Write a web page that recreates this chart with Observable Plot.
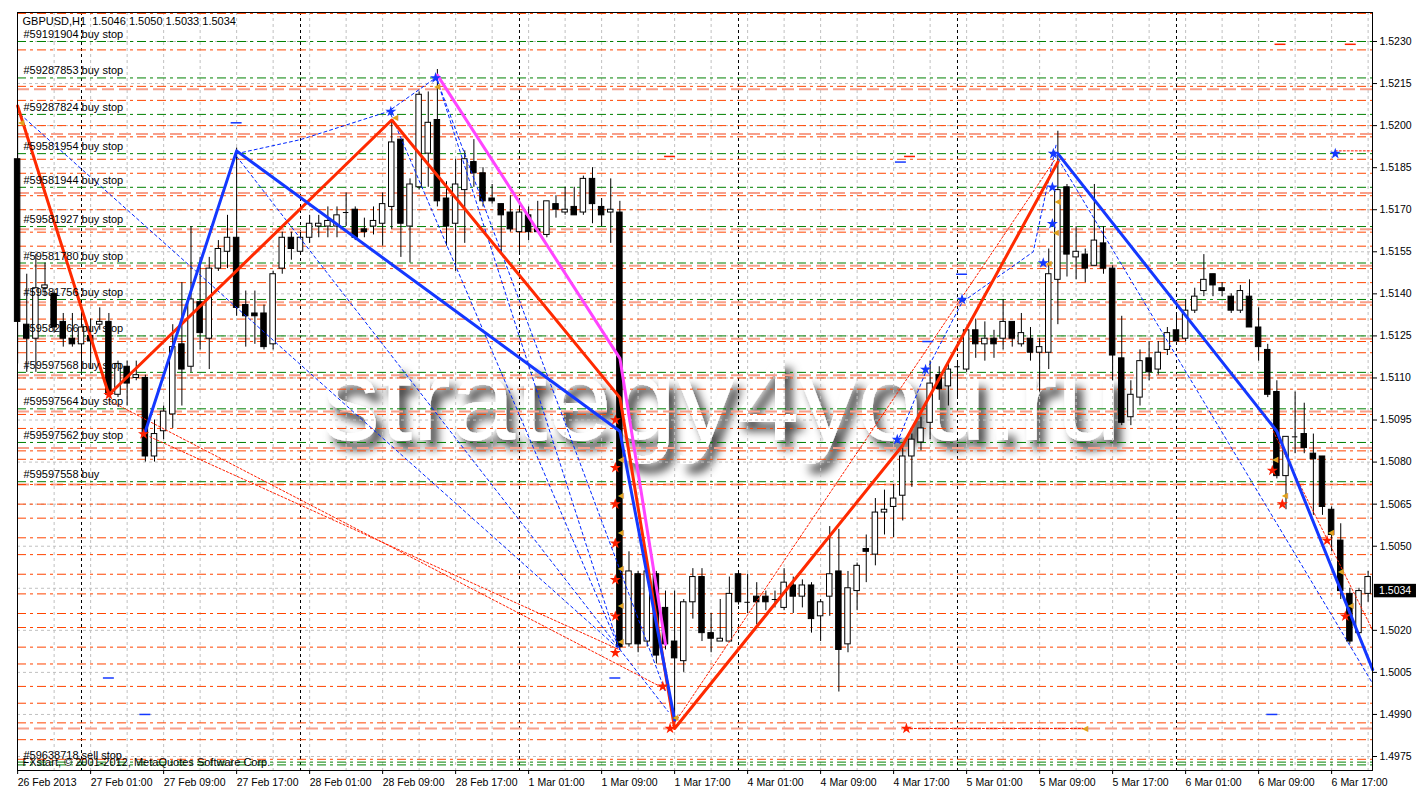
<!DOCTYPE html>
<html><head><meta charset="utf-8">
<script src="https://cdn.jsdelivr.net/npm/d3@7"></script>
<script src="https://cdn.jsdelivr.net/npm/@observablehq/plot@0.6"></script>
<style>
html,body{margin:0;padding:0;background:#fff;}
#chart{position:relative;width:1425px;height:803px;overflow:hidden;}
svg text{white-space:pre;}
</style></head><body><div id="chart"></div>
<script>
// ---------- DATA ----------
const firstBar = -7; // bar index of the first visible H1 candle (26 Feb 17:00)
const opens = [
1.5188,1.5129,1.5124,1.5142,1.5140,1.5130,1.5124,1.5122,1.5125,1.5129,
1.5130,1.5104,1.5114,1.5110,1.5110,1.5082,1.5091,1.5097,1.5122,1.5114,
1.5137,1.5124,1.5149,1.5155,1.5160,1.5136,1.5133,1.5133,1.5122,1.5149,
1.5160,1.5155,1.5160,1.5164,1.5164,1.5164,1.5169,1.5170,1.5163,1.5164,
1.5165,1.5171,1.5195,1.5164,1.5178,1.5190,1.5202,1.5174,1.5165,1.5177,
1.5187,1.5183,1.5174,1.5172,1.5169,1.5162,1.5168,1.5163,1.5161,1.5172,
1.5169,1.5171,1.5169,1.5181,1.5171,1.5169,1.5169,1.5015,1.5040,1.5016,
1.5040,1.5028,1.5016,1.5009,1.5030,1.5039,1.5019,1.5016,1.5016,1.5040,
1.5030,1.5032,1.5032,1.5031,1.5028,1.5036,1.5032,1.5036,1.5025,1.5032,
1.5041,1.5015,1.5034,1.5049,1.5047,1.5062,1.5064,1.5068,1.5082,1.5087,
1.5094,1.5111,1.5107,1.5114,1.5113,1.5127,1.5122,1.5124,1.5124,1.5130,
1.5122,1.5124,1.5119,1.5119,1.5145,1.5178,1.5153,1.5154,1.5150,1.5158,
1.5149,1.5117,1.5096,1.5103,1.5117,1.5113,1.5120,1.5127,1.5124,1.5134,
1.5141,1.5147,1.5142,1.5139,1.5134,1.5139,1.5128,1.5120,1.5105,1.5075,
1.5089,1.5090,1.5083,1.5082,1.5063,1.5052,1.5033,1.5019,1.5033];
const highs = [
1.5207,1.5147,1.5154,1.5151,1.5141,1.5133,1.5133,1.5133,1.5131,1.5135,
1.5133,1.5116,1.5116,1.5116,1.5111,1.5095,1.5100,1.5129,1.5144,1.5164,
1.5153,1.5153,1.5159,1.5168,1.5192,1.5141,1.5141,1.5136,1.5148,1.5162,
1.5162,1.5162,1.5168,1.5168,1.5171,1.5171,1.5176,1.5171,1.5167,1.5171,
1.5176,1.5202,1.5195,1.5181,1.5212,1.5212,1.5220,1.5180,1.5188,1.5191,
1.5195,1.5185,1.5179,1.5172,1.5175,1.5172,1.5171,1.5173,1.5173,1.5175,
1.5178,1.5178,1.5182,1.5185,1.5174,1.5181,1.5173,1.5048,1.5041,1.5041,
1.5041,1.5034,1.5034,1.5031,1.5042,1.5042,1.5026,1.5031,1.5039,1.5041,
1.5040,1.5037,1.5034,1.5034,1.5042,1.5039,1.5038,1.5037,1.5031,1.5057,
1.5056,1.5041,1.5044,1.5054,1.5067,1.5070,1.5072,1.5086,1.5090,1.5096,
1.5116,1.5114,1.5115,1.5116,1.5128,1.5131,1.5130,1.5127,1.5138,1.5130,
1.5133,1.5128,1.5124,1.5156,1.5198,1.5179,1.5164,1.5156,1.5179,1.5164,
1.5150,1.5132,1.5109,1.5120,1.5123,1.5123,1.5128,1.5133,1.5138,1.5142,
1.5154,1.5147,1.5144,1.5140,1.5143,1.5145,1.5135,1.5122,1.5109,1.5089,
1.5105,1.5101,1.5090,1.5082,1.5064,1.5058,1.5035,1.5035,1.5041];
const lows = [
1.5115,1.5112,1.5112,1.5139,1.5126,1.5121,1.5121,1.5112,1.5113,1.5127,
1.5103,1.5103,1.5100,1.5109,1.5080,1.5080,1.5088,1.5092,1.5100,1.5112,
1.5120,1.5113,1.5148,1.5149,1.5132,1.5121,1.5122,1.5120,1.5120,1.5147,
1.5152,1.5155,1.5158,1.5160,1.5160,1.5160,1.5164,1.5159,1.5160,1.5161,
1.5157,1.5163,1.5153,1.5151,1.5177,1.5178,1.5171,1.5157,1.5148,1.5158,
1.5178,1.5171,1.5172,1.5154,1.5162,1.5154,1.5159,1.5162,1.5160,1.5167,
1.5168,1.5168,1.5168,1.5165,1.5164,1.5158,1.5013,1.5014,1.5012,1.5014,
1.5008,1.5013,1.4985,1.5005,1.5024,1.5016,1.5012,1.5016,1.5016,1.5029,
1.5026,1.5022,1.5027,1.5028,1.5027,1.5026,1.5028,1.5019,1.5016,1.5025,
1.4998,1.5012,1.5027,1.5037,1.5043,1.5054,1.5053,1.5059,1.5071,1.5084,
1.5088,1.5102,1.5100,1.5103,1.5112,1.5117,1.5116,1.5117,1.5120,1.5121,
1.5121,1.5116,1.5105,1.5113,1.5129,1.5146,1.5145,1.5144,1.5150,1.5147,
1.5109,1.5093,1.5093,1.5100,1.5109,1.5111,1.5118,1.5123,1.5123,1.5133,
1.5139,1.5139,1.5139,1.5133,1.5133,1.5128,1.5116,1.5103,1.5074,1.5063,
1.5083,1.5083,1.5061,1.5061,1.5048,1.5031,1.5015,1.5018,1.5030];
const closes = [
1.5130,1.5124,1.5142,1.5143,1.5128,1.5124,1.5122,1.5128,1.5123,1.5130,
1.5104,1.5115,1.5108,1.5111,1.5082,1.5090,1.5098,1.5121,1.5113,1.5138,
1.5126,1.5149,1.5156,1.5160,1.5135,1.5132,1.5132,1.5121,1.5147,1.5160,
1.5156,1.5160,1.5165,1.5165,1.5166,1.5168,1.5169,1.5160,1.5162,1.5166,
1.5172,1.5194,1.5165,1.5179,1.5211,1.5201,1.5173,1.5164,1.5179,1.5188,
1.5183,1.5173,1.5173,1.5168,1.5163,1.5169,1.5162,1.5162,1.5173,1.5170,
1.5170,1.5168,1.5181,1.5172,1.5168,1.5170,1.5014,1.5041,1.5015,1.5041,
1.5011,1.5015,1.5010,1.5030,1.5039,1.5019,1.5017,1.5017,1.5033,1.5030,
1.5030,1.5030,1.5030,1.5031,1.5037,1.5032,1.5036,1.5024,1.5030,1.5040,
1.5013,1.5035,1.5043,1.5048,1.5062,1.5063,1.5067,1.5082,1.5088,1.5092,
1.5108,1.5106,1.5113,1.5114,1.5127,1.5122,1.5124,1.5122,1.5130,1.5124,
1.5126,1.5119,1.5121,1.5147,1.5177,1.5154,1.5155,1.5149,1.5159,1.5149,
1.5118,1.5094,1.5104,1.5116,1.5112,1.5119,1.5126,1.5123,1.5134,1.5139,
1.5145,1.5143,1.5141,1.5134,1.5141,1.5128,1.5121,1.5104,1.5075,1.5089,
1.5089,1.5085,1.5081,1.5064,1.5054,1.5034,1.5016,1.5034,1.5039];

const headerText = "GBPUSD,H1  1.5046 1.5050 1.5033 1.5034";
const lastPrice = 1.5034;
const watermarkText = "strategy4you.ru";

// axes
const yTicks = [1.4975,1.4990,1.5005,1.5020,1.5035,1.5050,1.5065,1.5080,1.5095,1.5110,1.5125,1.5140,1.5155,1.5170,1.5185,1.5200,1.5215,1.5230];
const xTickIdx = [-7,1,9,17,25,33,41,49,57,65,73,81,89,97,105,113,121,129,137];
const xTickLabels = ["26 Feb 2013","27 Feb 01:00","27 Feb 09:00","27 Feb 17:00","28 Feb 01:00","28 Feb 09:00","28 Feb 17:00","1 Mar 01:00","1 Mar 09:00","1 Mar 17:00","4 Mar 01:00","4 Mar 09:00","4 Mar 17:00","5 Mar 01:00","5 Mar 09:00","5 Mar 17:00","6 Mar 01:00","6 Mar 09:00","6 Mar 17:00"];
const daySeparators = [0,24,48,72,96,120];

// pending orders and levels
const orderNames = ["#59191904 buy stop","#59287853 buy stop","#59287824 buy stop","#59581954 buy stop","#59581944 buy stop","#59581927 buy stop","#59581780 buy stop","#59581756 buy stop","#59582766 buy stop","#59597568 buy stop","#59597564 buy stop","#59597562 buy stop","#59597558 buy","#59638718 sell stop"];
const orderPrices = [1.5230,1.5217,1.5204,1.5190,1.5178,1.5164,1.5151,1.5138,1.5125,1.5112,1.5099,1.5087,1.5073,1.4973];
const greenLevels = [1.5230,1.5217,1.5204,1.5190,1.5178,1.5164,1.5151,1.5138,1.5125,1.5112,1.5099,1.5087,1.5073,1.4973,1.4972];
const salmonLevels = [1.5213,1.5197,1.5176,1.5163,1.5150,1.5137,1.5124,1.5111,1.5098,1.5085,1.5072,1.4985];
const redLevels = [1.5240,1.5227,1.5214,1.5209,1.5200,1.5196,1.5188,1.5183,1.5175,1.5170,1.5162,1.5157,1.5149,1.5144,1.5136,1.5131,1.5123,1.5119,1.5110,1.5106,1.5097,1.5092,1.5084,1.5081,1.5072,1.5065,1.5060,1.5053,1.5047,1.5040,1.5033,1.5026,1.5021,1.5014,1.5008,1.5000,1.4994,1.4987,1.4981,1.4974];

// zigzags [barIndex, price]
const redZigzag = [[-7,1.5207],[3,1.5104],[34,1.5202],[59,1.5103],[65,1.4985],[90,1.5086],[107,1.5187]];
const blueZigzagA = [[7,1.5091],[17,1.5191],[59,1.5091],[65,1.4988]];
const blueZigzagB = [[107,1.5190],[131,1.5091],[141.5,1.5006]];
const magentaZigzag = [[39,1.5218],[59,1.5117],[64,1.5015]];

// thin trend lines
const blueThin = [
 [[-6.7,1.5204],[59,1.5013]],
 [[17,1.5190],[24,1.5195],[33.6,1.5205],[38.8,1.5217]],
 [[17,1.5189],[64.3,1.4991]],
 [[33.9,1.5204],[59,1.5013]],
 [[39,1.5216],[59,1.5013]],
 [[39,1.5216],[64,1.4998]],
 [[89.4,1.5087],[92.5,1.5112],[96.5,1.5137],[104.3,1.5155],[106.8,1.5193]],
 [[106.7,1.5190],[141.5,1.5001]]
];
const redThin = [
 [[3,1.5102],[64,1.4999]],
 [[7.5,1.5089],[59,1.5013]],
 [[64.8,1.4986],[106.7,1.5188]],
 [[130.6,1.5091],[141.5,1.5020]],
 [[90.4,1.4985],[110,1.4985]],
 [[137.4,1.5191],[141.5,1.5191]]
];

// trade arrows
const blueArrows = [[33.9,1.5205],[38.8,1.5217],[89.4,1.5088],[92.5,1.5113],[96.5,1.5138],[105.4,1.5151],[106.4,1.5165],[106.4,1.5178],[106.5,1.5190],[137.4,1.5190]];
const redArrows = [[58.5,1.5095],[58.5,1.5078],[58.5,1.5065],[58.5,1.5051],[58.5,1.5038],[58.5,1.5025],[58.5,1.5012],[63.7,1.5000],[64.5,1.4985],[3,1.5104],[6.8,1.5090],[90.4,1.4985],[130.5,1.5077],[131.6,1.5065],[136.5,1.5052],[138.5,1.5025]];
const orangeArrows = [[59.1,1.5081],[59.1,1.5068],[59.1,1.5055],[59.1,1.5042],[59.1,1.5029],[59.1,1.5016],[65.1,1.4989],[34.4,1.5203],[39,1.5214],[107,1.5173],[106.8,1.5162],[106,1.5151],[110,1.4985],[130.8,1.5081],[131.9,1.5068],[136.9,1.5055],[138,1.5041],[139.1,1.5029],[-6.6,1.5201]];
const blueDashes = [[3,1.5003],[7,1.4990],[58.5,1.5003],[130.5,1.4990],[89.8,1.5187],[96.5,1.5147],[92.8,1.5123],[17,1.5201]];
const redDashes = [[90.8,1.5189],[64.5,1.5189],[131.4,1.5229],[139.1,1.5229]];

// ---------- BUILD ----------
const bars = opens.map((o,k)=>({i:firstBar+k,o,h:highs[k],l:lows[k],c:closes[k]}));
const bodies = bars.filter(d=>d.o!==d.c);
const dojis = bars.filter(d=>d.o===d.c);
const pts = a => a.map(([i,p])=>({i,p}));
const segs = a => a.flatMap((s,k)=>s.map(([i,p])=>({k,i,p})));
const gridX = d3.range(-3,142,4);
const fmt = d3.format(".4f");
const FONT = "'Liberation Sans', Arial, sans-serif";
const dashDot = "9,4,3,4";

const chart = Plot.plot({
  width:1425, height:803,
  marginLeft:17, marginRight:53, marginTop:12, marginBottom:33,
  style:{fontFamily:FONT, fontSize:"10.5px", background:"#fff", color:"#000", overflow:"visible"},
  x:{type:"linear", domain:[-7.014,141.48], axis:null, label:null},
  y:{type:"linear", domain:[1.497001,1.524034], axis:null, label:null},
  marks:[
    // grid
    Plot.ruleY(yTicks,{stroke:"#c0c0c0", strokeDasharray:"3,3"}),
    Plot.ruleX(gridX,{stroke:"#c0c0c0", strokeDasharray:"3,3"}),
    Plot.ruleX(daySeparators,{stroke:"#000", strokeDasharray:"3,3"}),
    // order levels
    Plot.ruleY(salmonLevels,{stroke:"#f7a08c", strokeWidth:2, strokeDasharray:"12,5"}),
    Plot.ruleY(redLevels,{stroke:"#ff4500", strokeWidth:1, strokeDasharray:dashDot}),
    Plot.ruleY(greenLevels,{stroke:"#008000", strokeWidth:1, strokeDasharray:dashDot}),
    // candles
    Plot.ruleX(bars,{x:"i", y1:"l", y2:"h", stroke:"#000", strokeWidth:1}),
    Plot.rect(bodies,{x1:d=>d.i-0.3, x2:d=>d.i+0.3, y1:d=>Math.min(d.o,d.c), y2:d=>Math.max(d.o,d.c),
      fill:d=>d.c>d.o?"#fff":"#000", stroke:"#000", strokeWidth:1}),
    Plot.ruleY(dojis,{y:"c", x1:d=>d.i-0.3, x2:d=>d.i+0.3, stroke:"#000"}),
    // thin lines
    Plot.line(segs(blueThin),{x:"i", y:"p", z:"k", stroke:"#0026ff", strokeWidth:1, strokeDasharray:"3,3"}),
    Plot.line(segs(redThin),{x:"i", y:"p", z:"k", stroke:"#ff2000", strokeWidth:1, strokeDasharray:"2,2"}),
    // zigzags
    Plot.line(pts(redZigzag),{x:"i", y:"p", stroke:"#ff2a00", strokeWidth:3}),
    Plot.line(pts(blueZigzagA),{x:"i", y:"p", stroke:"#1438ff", strokeWidth:3}),
    Plot.line(pts(blueZigzagB),{x:"i", y:"p", stroke:"#1438ff", strokeWidth:3}),
    Plot.line(pts(magentaZigzag),{x:"i", y:"p", stroke:"#ff44ff", strokeWidth:3}),
    // arrows / markers
    Plot.ruleY(pts(blueDashes),{y:"p", x1:d=>d.i-0.6, x2:d=>d.i+0.6, stroke:"#1438ff", strokeWidth:1.5}),
    Plot.ruleY(pts(redDashes),{y:"p", x1:d=>d.i-0.6, x2:d=>d.i+0.6, stroke:"#ff2000", strokeWidth:1.5}),
    Plot.text(pts(orangeArrows),{x:"i", y:"p", text:()=>"◀", fill:"#e0a020", fontSize:8, fontFamily:"DejaVu Sans"}),
    Plot.dot(pts(redArrows),{x:"i", y:"p", symbol:"star", r:3.5, fill:"#ff2000"}),
    Plot.dot(pts(blueArrows),{x:"i", y:"p", symbol:"star", r:3.5, fill:"#1438ff"}),
    // order labels
    Plot.text(orderNames.map((n,k)=>({n,p:orderPrices[k]})),{y:"p", text:"n", frameAnchor:"left", dx:6, dy:-7, textAnchor:"start", fontSize:11, fill:"#000"}),
    Plot.text([headerText],{text:d=>d, frameAnchor:"top-left", lineAnchor:"middle", dx:5, dy:9, textAnchor:"start", fontSize:11, fill:"#000"}),
    Plot.text(["FXstart, © 2001-2012, MetaQuotes Software Corp."],{text:d=>d, frameAnchor:"bottom-left", lineAnchor:"middle", dx:5, dy:-8, textAnchor:"start", fontSize:11, fill:"#000"}),
    // axes
    Plot.frame({stroke:"#000"}),
    Plot.axisY(yTicks.filter(v=>Math.abs(v-lastPrice)>0.0005),{anchor:"right", label:null, tickSize:4, tickPadding:3, tickFormat:fmt, fontSize:10.5, fill:"#000"}),
    Plot.axisX(xTickIdx,{anchor:"bottom", label:null, tickSize:4, tickPadding:4, tickFormat:d=>xTickLabels[xTickIdx.indexOf(d)], textAnchor:"start", fontSize:10.5, fill:"#000"}),
    Plot.rect([lastPrice],{x1:141.68, x2:146.3, y1:d=>d-0.00024, y2:d=>d+0.00024, fill:"#000"}),
    Plot.text([lastPrice],{x:142.2, y:d=>d, text:d=>fmt(d), textAnchor:"start", fill:"#fff", fontSize:10.5})
  ]
});

// watermark behind everything
const ns = "http://www.w3.org/2000/svg";
const defs = document.createElementNS(ns,"defs");
defs.innerHTML = '<filter id="wm" x="-10%" y="-40%" width="130%" height="190%">'+
 '<feGaussianBlur in="SourceAlpha" stdDeviation="5"/><feOffset dx="7" dy="9" result="b"/>'+
 '<feFlood flood-color="#000" flood-opacity="0.75"/><feComposite in2="b" operator="in" result="s"/>'+
 '<feMerge><feMergeNode in="s"/><feMergeNode in="SourceGraphic"/></feMerge></filter>';
const wm = document.createElementNS(ns,"text");
wm.setAttribute("x","322"); wm.setAttribute("y","440");
wm.setAttribute("text-anchor","start");
wm.setAttribute("font-family",FONT); wm.setAttribute("font-size","116");
wm.setAttribute("fill","#fff"); wm.setAttribute("filter","url(#wm)");
wm.textContent = watermarkText;
const anchor = chart.querySelector("style");
const after = anchor ? anchor.nextSibling : chart.firstChild;
chart.insertBefore(defs, after);
chart.insertBefore(wm, after);
document.getElementById("chart").appendChild(chart);
</script>
</body></html>
